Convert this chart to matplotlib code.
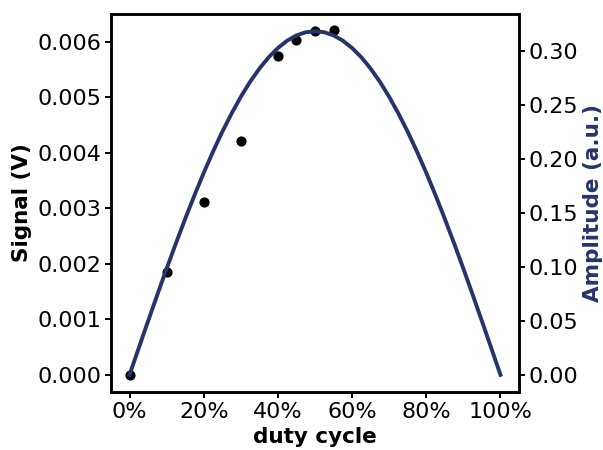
import matplotlib
matplotlib.use("Agg")
import matplotlib.pyplot as plt
from matplotlib.ticker import PercentFormatter, FormatStrFormatter

# measured signal
duty_meas = [0.0, 0.10, 0.20, 0.30, 0.40, 0.45, 0.50, 0.55]
signal_v = [0.0, 0.00186, 0.00311, 0.00421, 0.00574, 0.00603, 0.00620, 0.00621]

# amplitude curve
duty_curve = [0.000, 0.025, 0.050, 0.075, 0.100, 0.125, 0.150, 0.175, 0.200, 0.225,
              0.250, 0.275, 0.300, 0.325, 0.350, 0.375, 0.400, 0.425, 0.450, 0.475,
              0.500, 0.525, 0.550, 0.575, 0.600, 0.625, 0.650, 0.675, 0.700, 0.725,
              0.750, 0.775, 0.800, 0.825, 0.850, 0.875, 0.900, 0.925, 0.950, 0.975, 1.000]
amplitude = [0.0, 0.0250, 0.0498, 0.0743, 0.0984, 0.1218, 0.1445, 0.1663, 0.1871, 0.2067,
             0.2251, 0.2420, 0.2575, 0.2714, 0.2836, 0.2941, 0.3027, 0.3095, 0.3144, 0.3173,
             0.3183, 0.3173, 0.3144, 0.3095, 0.3027, 0.2941, 0.2836, 0.2714, 0.2575, 0.2420,
             0.2251, 0.2067, 0.1871, 0.1663, 0.1445, 0.1218, 0.0984, 0.0743, 0.0498, 0.0250, 0.0]

navy = "#25346a"
plt.rcParams["font.size"] = 16
plt.rcParams["axes.labelsize"] = 15.5
plt.rcParams["axes.linewidth"] = 1.8

fig = plt.figure(figsize=(6.03, 4.5), dpi=100)
ax = fig.add_axes([111/603, 1-392/450, 408/603, 378/450])
ax.scatter(duty_meas, signal_v, color="black", s=40, zorder=3)
ax.set_ylabel("Signal (V)", fontweight="bold")
ax.set_xlabel("duty cycle", fontweight="bold", labelpad=4)
ax.set_xticks([0, 0.2, 0.4, 0.6, 0.8, 1.0])
ax.xaxis.set_major_formatter(PercentFormatter(1, decimals=0))
ax.set_yticks([0, 0.001, 0.002, 0.003, 0.004, 0.005, 0.006])
ax.yaxis.set_major_formatter(FormatStrFormatter("%.3f"))

ax2 = ax.twinx()
ax2.plot(duty_curve, amplitude, color=navy, lw=2.8, solid_joinstyle="round")
ax2.set_ylabel("Amplitude (a.u.)", fontweight="bold", color=navy, labelpad=3)
ax2.set_yticks([0, 0.05, 0.10, 0.15, 0.20, 0.25, 0.30])
ax2.yaxis.set_major_formatter(FormatStrFormatter("%.2f"))

ax.set_xlim(-0.05, 1.05)
ax.set_ylim(-0.00031, 0.0065)
ax2.set_ylim(-0.0159, 0.3342)
for a in (ax, ax2):
    a.tick_params(width=1.4, length=4, pad=3)

fig.savefig("out.png", dpi=100)
